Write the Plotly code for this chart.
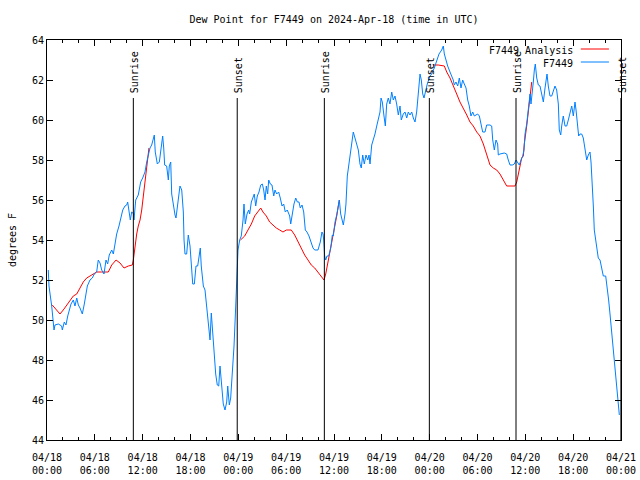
import pandas as pd
import plotly.graph_objects as go

START = pd.Timestamp("2024-04-18 00:00")

# F7449 observations: hours after 04/18 00:00 UTC, dew point (F)
obs_hours = [0.16,0.25,0.59,0.88,1.00,1.42,1.84,1.92,2.17,2.38,2.60,2.76,3.01,3.30,3.51,3.73,3.93,4.14,4.43,4.68,
             4.85,5.06,5.39,5.68,5.93,6.23,6.43,6.65,6.86,7.15,7.40,7.61,7.81,8.12,8.32,8.53,8.74,9.03,9.28,9.50,
             9.78,10.00,10.12,10.29,10.45,10.62,10.88,10.91,11.13,11.45,11.75,12.00,12.29,12.51,12.71,12.92,13.13,13.33,13.46,13.58,
             13.84,14.09,14.26,14.43,14.51,14.64,14.76,15.01,15.22,15.34,15.52,15.64,15.84,16.06,16.18,16.34,16.56,16.68,16.90,17.10,
             17.19,17.31,17.52,17.72,17.94,18.15,18.28,18.48,18.69,18.90,19.10,19.23,19.35,19.61,19.82,20.03,20.28,20.45,20.61,20.79,
             20.95,21.16,21.36,21.54,21.70,21.91,22.11,22.33,22.54,22.67,22.87,23.04,23.24,23.46,23.62,23.80,23.92,23.96,24.17,24.37,
             24.59,24.71,24.87,25.09,25.30,25.42,25.63,25.84,26.00,26.18,26.38,26.59,26.81,27.01,27.18,27.35,27.51,27.68,27.81,28.01,
             28.22,28.44,28.60,28.81,29.06,29.26,29.48,29.69,29.89,30.14,30.44,30.57,30.77,30.98,31.20,31.40,31.61,31.77,31.99,32.20,
             32.40,32.61,32.86,33.15,33.37,33.58,33.99,34.28,34.49,34.62,34.71,34.83,34.96,35.12,35.34,35.59,35.79,35.91,36.13,36.34,
             36.54,36.67,36.84,37.04,37.17,37.38,37.50,37.67,37.88,38.09,38.26,38.42,38.63,38.85,39.05,39.26,39.42,39.60,39.80,40.01,
             40.23,40.39,40.52,40.73,40.93,41.14,41.36,41.56,41.77,41.90,42.06,42.27,42.44,42.61,42.81,43.02,43.24,43.44,43.65,43.86,
             44.07,44.28,44.44,44.69,44.91,45.12,45.32,45.53,45.75,45.95,46.16,46.37,46.50,46.66,46.79,46.95,47.13,47.29,47.50,47.70,
             48.04,48.25,48.58,48.88,49.17,49.51,49.71,49.84,50.01,50.26,50.55,50.76,50.96,51.09,51.30,51.52,51.72,51.93,52.14,52.34,
             52.56,52.77,52.97,53.18,53.40,53.60,53.81,54.02,54.23,54.44,54.65,54.94,55.15,55.57,55.78,55.91,56.11,56.32,56.53,56.61,
             56.82,57.36,57.66,57.86,58.08,58.37,58.62,58.83,59.04,59.24,59.46,59.67,59.83,59.96,60.17,60.30,60.42,60.59,60.71,60.84,
             61.00,61.13,61.25,61.43,61.63,61.84,62.06,62.26,62.47,62.59,62.72,62.88,63.09,63.31,63.51,63.72,63.93,64.14,64.26,64.44,
             64.56,64.76,64.98,65.19,65.39,65.60,65.82,66.02,66.23,66.36,66.52,66.69,66.86,67.07,67.27,67.49,67.70,67.90,68.11,68.24,
             68.36,68.53,68.65,68.83,68.95,69.15,69.37,69.58,69.78,70.08,70.28,70.45,70.62,70.84,71.04,71.25,71.46,71.59,71.66,71.79]
obs_vals = [52.5,51.7,50.7,49.5,49.75,49.8,49.7,49.5,49.9,49.75,50.2,50.4,50.8,51.0,50.7,51.1,50.75,50.6,50.3,50.8,
            51.2,51.7,52.0,52.1,52.3,52.4,53.0,52.85,52.5,52.3,53.0,52.8,53.25,53.5,53.3,53.8,54.3,54.7,55.2,55.5,
            55.7,55.75,55.9,55.3,55.0,55.4,55.3,55.0,56.0,56.25,56.9,57.1,57.4,57.9,58.25,58.6,58.75,59.1,59.25,58.4,
            57.8,57.9,58.4,59.1,59.2,58.6,57.75,57.7,57.0,57.7,57.9,56.3,55.7,55.25,55.1,55.7,56.4,56.7,56.5,55.4,
            54.0,53.3,53.3,54.25,53.7,52.25,51.8,51.8,52.7,52.7,53.3,53.6,52.7,51.7,51.5,50.7,49.8,49.0,50.35,49.3,
            48.3,47.3,46.75,46.7,47.7,46.8,45.8,45.5,45.9,46.7,45.75,46.1,47.2,48.7,50.2,51.8,53.2,53.5,54.0,54.2,
            55.0,55.8,54.8,55.3,55.5,55.3,55.9,56.2,56.3,55.7,56.2,56.4,56.75,56.8,56.5,56.0,56.7,56.3,57.0,56.8,
            56.75,56.2,56.5,56.3,56.4,56.1,55.7,55.8,55.4,55.5,55.2,54.8,55.3,55.8,56.1,55.9,55.9,55.6,55.75,55.4,
            54.5,54.4,54.2,53.9,53.6,53.5,53.5,53.9,54.4,54.3,54.0,53.2,53.0,53.2,53.2,53.6,54.25,54.2,54.9,55.25,
            55.75,56.0,55.3,55.0,54.75,55.3,55.8,57.2,57.8,58.4,59.0,59.4,59.1,58.7,58.5,57.8,57.6,58.25,57.8,58.25,
            58.0,58.25,57.8,58.75,59.0,59.3,59.7,60.0,60.4,61.1,60.9,60.2,59.7,60.8,61.1,60.8,61.4,61.0,61.2,60.8,
            60.25,60.7,60.0,60.3,60.4,60.1,60.4,60.25,60.4,60.1,59.9,60.4,61.0,61.8,62.3,62.0,61.3,61.1,61.5,61.8,
            62.2,62.3,62.6,63.0,63.3,63.5,63.7,63.3,63.0,62.7,62.4,62.2,62.0,61.75,61.9,61.7,62.1,61.6,62.0,61.8,
            61.6,61.0,60.7,60.2,60.4,60.2,60.25,60.3,60.2,59.7,59.4,59.4,59.75,59.75,59.7,59.0,58.5,59.0,58.8,58.25,
            58.3,58.35,58.3,58.0,57.75,57.75,57.8,58.0,57.9,57.75,58.0,58.2,58.5,59.3,59.8,60.25,60.75,61.3,60.8,61.2,
            61.9,62.5,62.8,62.1,61.75,61.7,61.2,60.9,61.6,62.0,62.3,61.7,61.2,61.2,61.5,61.7,61.5,60.8,59.5,59.25,
            59.7,60.2,59.7,59.7,60.0,60.4,60.7,60.2,60.9,60.5,60.0,59.2,59.3,59.3,59.1,58.5,58.0,58.25,58.4,57.9,
            57.2,55.7,54.5,54.0,53.5,53.1,53.0,52.5,52.2,52.2,51.6,51.0,50.3,49.3,48.5,47.7,46.8,46.2,45.7,45.25]

# F7449 Analysis (three segments, None = gap)
ana_hours = [0.66,1.22,1.63,2.04,2.47,2.89,3.30,3.73,4.14,4.55,4.98,5.39,5.81,6.23,6.86,7.69,8.12,8.66,9.16,9.66,
             10.20,10.70,10.83,11.04,11.25,11.45,11.67,11.88,12.00,12.17,12.29,12.42,12.58,12.71,12.79,None,
             24.27,24.80,25.21,25.63,26.05,26.47,26.81,27.09,27.51,27.93,28.35,28.76,29.19,29.60,30.02,30.64,31.07,31.48,31.90,32.32,
             32.74,33.15,33.58,33.99,34.41,34.75,34.96,35.16,35.37,35.66,35.91,36.13,36.34,36.54,36.67,None,
             48.42,49.08,49.84,50.14,50.55,50.96,51.39,51.80,52.22,52.65,53.06,53.47,53.90,54.31,54.73,55.15,55.57,55.98,56.41,56.82,
             57.24,57.66,58.08,58.70,58.92,59.12,59.33,59.54,59.75,59.87,60.17,60.37,60.59,60.80]
ana_vals = [50.75,50.5,50.3,50.5,50.75,51.0,51.2,51.3,51.6,51.9,52.1,52.2,52.3,52.4,52.4,52.4,52.75,53.0,52.85,52.6,
            52.7,52.75,53.0,53.8,54.3,54.7,55.0,55.5,55.9,56.4,57.0,57.4,57.9,58.4,58.6,None,
            54.0,54.2,54.5,54.8,55.2,55.4,55.6,55.4,55.2,54.9,54.75,54.6,54.5,54.4,54.5,54.5,54.25,53.9,53.6,53.25,
            53.0,52.75,52.6,52.4,52.2,52.0,52.3,52.7,53.1,53.7,54.2,54.7,55.2,55.7,56.0,None,
            62.75,62.75,62.7,62.4,62.1,61.75,61.3,60.9,60.6,60.25,59.9,59.7,59.4,59.2,58.8,58.25,57.75,57.6,57.5,57.3,
            57.0,56.7,56.7,56.7,56.9,57.3,57.75,58.1,58.2,58.8,59.7,60.5,61.3,61.9]

sun_labels = ["Sunrise", "Sunset", "Sunrise", "Sunset", "Sunrise", "Sunset"]
sun_hours = [10.83, 23.86, 34.79, 47.96, 58.83, 71.99]

y_ticks = list(range(44, 65, 2))
series_names = ["F7449 Analysis", "F7449"]
series_colors = ["#ff0000", "#0080ff"]

def to_time(hours):
    return [None if h is None else START + pd.Timedelta(hours=h) for h in hours]

FONT = "DejaVu Sans Mono"

fig = go.Figure()
fig.add_trace(go.Scatter(x=to_time(ana_hours), y=ana_vals, mode="lines", name=series_names[0],
                         line=dict(color=series_colors[0], width=1), connectgaps=False))
fig.add_trace(go.Scatter(x=to_time(obs_hours), y=obs_vals, mode="lines", name=series_names[1],
                         line=dict(color=series_colors[1], width=1), connectgaps=False))

line_top = 61.1
for lab, h in zip(sun_labels, sun_hours):
    t = START + pd.Timedelta(hours=h)
    fig.add_shape(type="line", xref="x", yref="y", x0=t, x1=t, y0=44, y1=line_top,
                  line=dict(color="black", width=1))
    fig.add_annotation(x=t, y=line_top, xref="x", yref="y", text=lab, textangle=-90,
                       showarrow=False, xanchor="center", yanchor="bottom", yshift=3, xshift=1,
                       font=dict(family=FONT, size=10, color="black"))

# legend (text on left, sample line on right, gnuplot style)
leg_y = [0.975, 0.9425]
for name, col, yy in zip(series_names, series_colors, leg_y):
    fig.add_annotation(x=0.92, y=yy, xref="paper", yref="paper", text=name, showarrow=False,
                       xanchor="right", yanchor="middle", font=dict(family=FONT, size=10, color="black"))
    fig.add_shape(type="line", xref="paper", yref="paper", x0=0.930, x1=0.979, y0=yy + 0.0025, y1=yy + 0.0025,
                  line=dict(color=col, width=1))

fig.update_layout(
    width=640, height=480,
    margin=dict(l=47, r=19, t=40, b=40),
    paper_bgcolor="white", plot_bgcolor="white",
    showlegend=False,
    font=dict(family=FONT, size=10, color="black"),
    title=dict(text="Dew Point for F7449 on 2024-Apr-18 (time in UTC)", x=0.5, xref="paper",
               y=1 - 19 / 480, yref="container", yanchor="middle", xanchor="center",
               font=dict(family=FONT, size=10, color="black")),
)
fig.update_xaxes(
    type="date", range=[START, START + pd.Timedelta(hours=72)],
    dtick=6 * 3600 * 1000, tick0=START, tickformat="%m/%d<br>%H:%M",
    ticks="inside", ticklen=6, tickcolor="black", showline=True, linecolor="black", linewidth=1,
    mirror="ticks", showgrid=False, zeroline=False, automargin=False, ticklabelstandoff=8,
    minor=dict(dtick=2 * 3600 * 1000, tick0=START, ticks="inside", ticklen=3, tickcolor="black", showgrid=False),
    tickfont=dict(family=FONT, size=10, color="black"),
)
fig.update_yaxes(
    range=[44, 64], tickvals=y_ticks, ticktext=[str(v) for v in y_ticks],
    ticks="inside", ticklen=6, tickcolor="black", showline=True, linecolor="black", linewidth=1,
    mirror="ticks", showgrid=False, zeroline=False, automargin=False,
    title=dict(text="degrees F", font=dict(family=FONT, size=10, color="black"), standoff=13),
    tickfont=dict(family=FONT, size=10, color="black"),
)

fig.write_html("out.html", config={"displayModeBar": False},
               post_script="document.body.style.margin='0';document.body.style.overflow='hidden';")
